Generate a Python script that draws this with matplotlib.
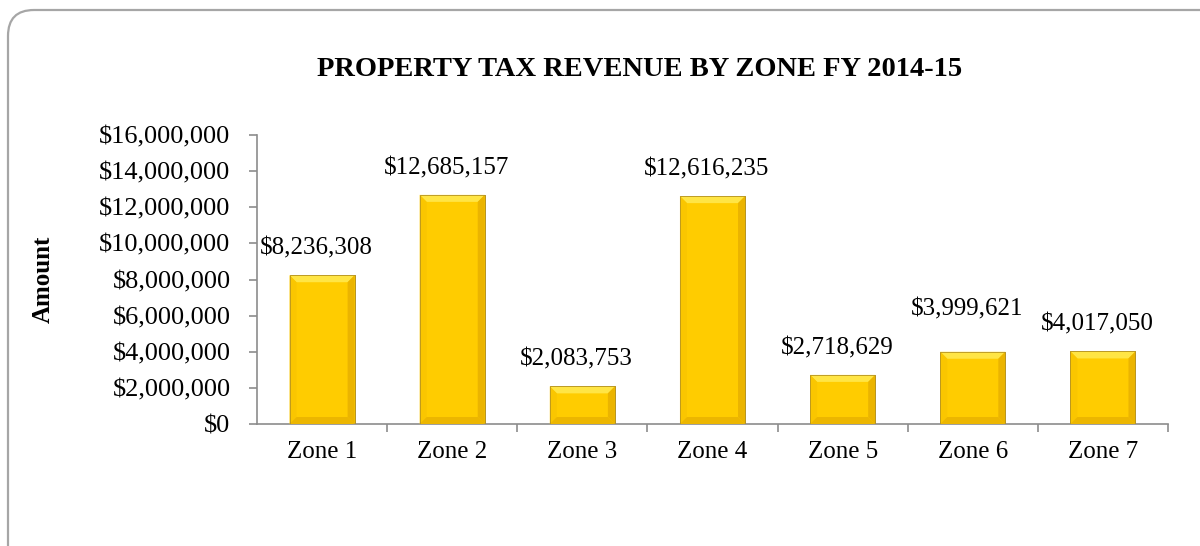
import matplotlib
matplotlib.use("Agg")
import matplotlib.pyplot as plt
from matplotlib.patches import FancyBboxPatch, Polygon
from matplotlib.ticker import FuncFormatter, FixedLocator

plt.rcParams['font.family'] = ['Liberation Serif', 'DejaVu Serif']

zones = ['Zone 1', 'Zone 2', 'Zone 3', 'Zone 4', 'Zone 5', 'Zone 6', 'Zone 7']
revenue = [8236308, 12685157, 2083753, 12616235, 2718629, 3999621, 4017050]

fig = plt.figure(figsize=(12, 5.46), dpi=100)

# rounded chart border (pixel coords, runs off right/bottom edge)
border = FancyBboxPatch((8, -40), 1240, 576, boxstyle="round,pad=0,rounding_size=26",
                        transform=None, fill=False, edgecolor='#a6a6a6', linewidth=1.6)
fig.patches.append(border)

ax = fig.add_axes([257 / 1200, 122 / 546, 911 / 1200, 289 / 546])
ax.set_xlim(-0.5, 6.5)
ax.set_ylim(0, 16000000)

x = list(range(len(zones)))
w = 0.5
ax.bar(x, revenue, width=w, color='#ffcc00', edgecolor='#b8961a', linewidth=0.6, zorder=2)

# bevel look
bx = 7 * 7 / 911
by = 7 * 16000000 / 289
for xi, v in zip(x, revenue):
    l, r = xi - w / 2, xi + w / 2
    ax.add_patch(Polygon([(l, v), (r, v), (r - bx, v - by), (l + bx, v - by)],
                         closed=True, facecolor='#ffe545', edgecolor='none', zorder=3))
    ax.add_patch(Polygon([(l, 0), (l, v), (l + bx, v - by), (l + bx, by)],
                         closed=True, facecolor='#fac600', edgecolor='none', zorder=3))
    ax.add_patch(Polygon([(r, 0), (r, v), (r - bx, v - by), (r - bx, by)],
                         closed=True, facecolor='#ebb400', edgecolor='none', zorder=3))
    ax.add_patch(Polygon([(l, 0), (r, 0), (r - bx, by), (l + bx, by)],
                         closed=True, facecolor='#ecb600', edgecolor='none', zorder=3))
    ax.add_patch(Polygon([(l, 0), (r, 0), (r, v), (l, v)], closed=True,
                         facecolor='none', edgecolor='#b59322', linewidth=0.6, zorder=4))

# value labels (zone 6 label sits higher in the original)
extra = {5: 11}
for i, (xi, v) in enumerate(zip(x, revenue)):
    ax.annotate('${:,}'.format(v), (xi, v), xytext=(-4, 15 + extra.get(i, 0)),
                textcoords='offset points', ha='center', va='baseline', fontsize=18, zorder=5)

ax.yaxis.set_major_locator(FixedLocator(range(0, 16000001, 2000000)))
ax.yaxis.set_major_formatter(FuncFormatter(lambda v, p: '${:,.0f}'.format(v)))
ax.set_xticks(x)
ax.set_xticklabels(zones)
ax.set_xticks([i + 0.5 for i in x], minor=True)
ax.tick_params(axis='x', which='major', length=0, pad=12, labelsize=18)
ax.tick_params(axis='x', which='minor', length=6, color='#8c8c8c', width=1.2)
ax.tick_params(axis='y', length=6, color='#8c8c8c', width=1.2, pad=13, labelsize=19)

for s in ['top', 'right']:
    ax.spines[s].set_visible(False)
for s in ['left', 'bottom']:
    ax.spines[s].set_color('#8c8c8c')
    ax.spines[s].set_linewidth(1.2)

ax.set_ylabel('Amount', fontsize=18, fontweight='bold', labelpad=32)
fig.text(640 / 1200, 1 - 70 / 546, 'PROPERTY TAX REVENUE BY ZONE FY 2014-15',
         ha='center', va='center', fontsize=20.5, fontweight='bold')

fig.savefig('out.png', dpi=100)
